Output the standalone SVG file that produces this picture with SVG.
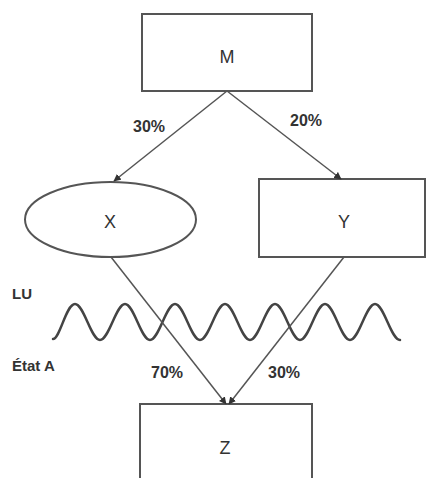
<svg xmlns="http://www.w3.org/2000/svg" width="426" height="478" viewBox="0 0 426 478">
<style>
.box{fill:#fff;stroke:#555;stroke-width:2}
.lbl{font-family:"Liberation Sans",Arial,sans-serif;font-size:18px;fill:#333;text-anchor:middle}
.pct{font-family:"Liberation Sans",Arial,sans-serif;font-size:16px;font-weight:bold;fill:#333}
.side{font-family:"Liberation Sans",Arial,sans-serif;font-size:15px;font-weight:bold;fill:#333}
.edge{stroke:#555;stroke-width:1.5;fill:none;marker-end:url(#ah)}
.wave{stroke:#444;stroke-width:2.5;fill:none;stroke-linecap:round}
</style>
<defs>
<marker id="ah" viewBox="0 0 10 10" refX="9" refY="5" markerWidth="5" markerHeight="5" orient="auto" markerUnits="strokeWidth">
<path d="M0,0 L10,5 L0,10 z" fill="#333"/>
</marker>
</defs>
<rect width="426" height="478" fill="#fff"/>
<g id="M"><rect class="box" x="142" y="14" width="170" height="77"/><text class="lbl" x="227" y="63">M</text></g>
<g id="X"><ellipse class="box" cx="110.5" cy="219.5" rx="85.5" ry="37.5"/><text class="lbl" x="110" y="228">X</text></g>
<g id="Y"><rect class="box" x="259" y="179" width="166" height="78"/><text class="lbl" x="344" y="228">Y</text></g>
<g id="Z"><rect class="box" x="140" y="404" width="172" height="80"/><text class="lbl" x="225" y="454">Z</text></g>
<g id="wave"><path class="wave" d="M53,339 C60,339 66,304 75,304 S91,340 100,340 S116,304 125,304 S141,340 150,340 S166,304 175,304 S191,340 200,340 S216,304 225,304 S241,340 250,340 S266,304 275,304 S291,340 300,340 S316,304 325,304 S341,340 350,340 S366,304 375,304 S391,340 400,340"/></g>
<g id="connectors">
<line class="edge" x1="227" y1="91" x2="114" y2="181"/>
<line class="edge" x1="227" y1="91" x2="341" y2="179"/>
<line class="edge" x1="111" y1="257" x2="226" y2="404"/>
<line class="edge" x1="344" y1="257" x2="229" y2="404"/>
</g>
<g id="labels">
<text class="pct" x="133" y="132">30%</text>
<text class="pct" x="290" y="126">20%</text>
<text class="pct" x="151" y="378">70%</text>
<text class="pct" x="268" y="378">30%</text>
<text class="side" x="12" y="299">LU</text>
<text class="side" x="12" y="371">État A</text>
</g>
</svg>
